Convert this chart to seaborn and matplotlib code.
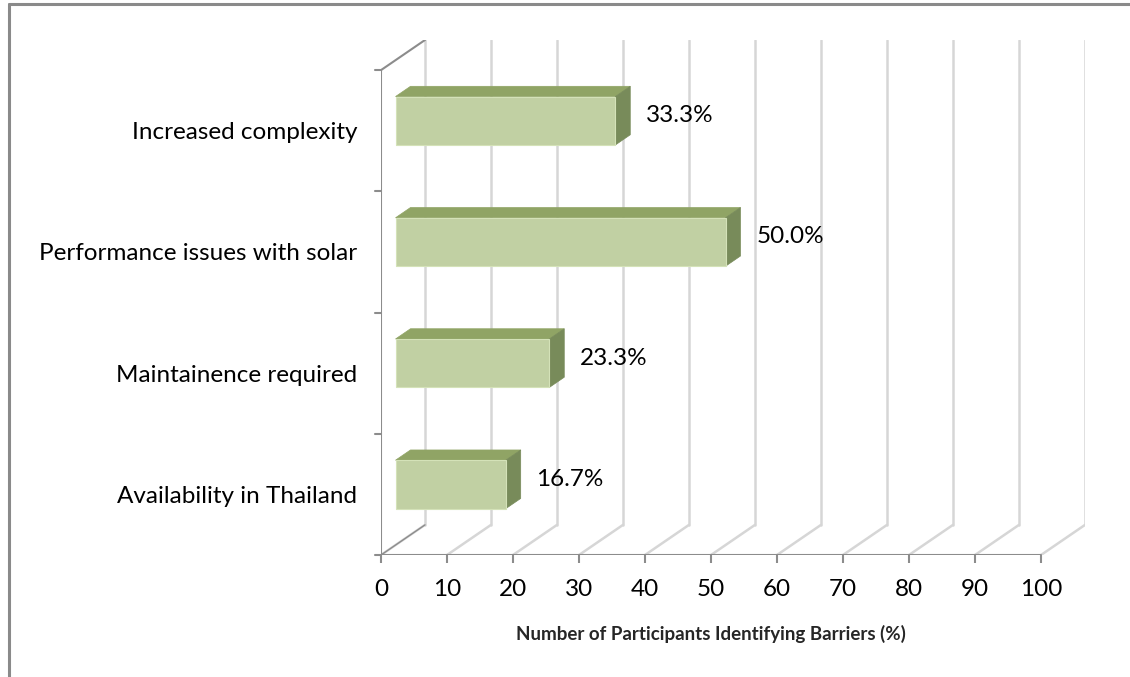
import matplotlib
matplotlib.use("Agg")
import matplotlib.pyplot as plt
import seaborn as sns
import pandas as pd
from matplotlib.patches import Polygon
from matplotlib.lines import Line2D

# Survey results: share of participants naming each barrier
categories = ["Increased complexity", "Performance issues with solar",
              "Maintainence required", "Availability in Thailand"]
values = [33.3, 50.0, 23.3, 16.7]
value_labels = ["33.3%", "50.0%", "23.3%", "16.7%"]
x_ticks = [0, 10, 20, 30, 40, 50, 60, 70, 80, 90, 100]
x_title = "Number of Participants Identifying Barriers (%)"

df = pd.DataFrame({"barrier": categories, "pct": values})

sns.set_theme(style="white")
plt.rcParams["font.family"] = ["Lato", "DejaVu Sans"]

FRONT = "#c4d79b"
TOP = "#90a465"
SIDE = "#788b5a"
AXIS = "#8c8c8c"
GRID = "#d6d6d6"
FS = 17.5

fig = plt.figure(figsize=(11.30, 6.77), dpi=100)
W, H = 1130, 677
# axes spans front-left axis (x=0) to back-right corner, back-wall top to floor front
ax = fig.add_axes([381 / W, 1 - 555 / H, (1085 - 381) / W, (555 - 40) / H])

# oblique depth in data units
DX = 100 * 44 / 660.0          # horizontal shift of the back wall
band_px = (555 - 72) / 4.0
DY = -30 / band_px              # vertical shift (axis inverted below)
D0, D1 = 0.33, 0.67             # bar sits in the middle third of the depth
BAR_W = 0.4

sns.barplot(data=df, x="pct", y="barrier", orient="h", order=categories,
            color=FRONT, width=BAR_W, ax=ax, zorder=5, edgecolor="#d4e2b8",
            linewidth=0.8)

n = len(categories)
ax.set_xlim(0, 100 + DX)
ax.set_ylim(n - 0.5, -0.5 + DY)

# back wall vertical gridlines and floor diagonals
for t in x_ticks:
    ax.add_line(Line2D([t + DX, t + DX], [-0.5 + DY, n - 0.5 + DY],
                       color=GRID, lw=1.8, zorder=1))
    ax.add_line(Line2D([t, t + DX], [n - 0.5, n - 0.5 + DY],
                       color=GRID, lw=1.8, zorder=1))
# left wall edges
ax.add_line(Line2D([0, DX], [-0.5, -0.5 + DY], color=AXIS, lw=1.5, zorder=2))
ax.add_line(Line2D([0, 0], [-0.5, n - 0.5], color=AXIS, lw=1.5, zorder=2))
ax.add_line(Line2D([0, DX], [n - 0.5, n - 0.5 + DY], color=AXIS, lw=1.0, zorder=2))
# floor front edge
ax.add_line(Line2D([0, 100], [n - 0.5, n - 0.5], color=AXIS, lw=1.5, zorder=2))
# category boundary ticks on the left axis
for b in range(n + 1):
    ax.add_line(Line2D([-6 * 100 / 660.0, 0], [b - 0.5, b - 0.5], color=AXIS,
                       lw=1.5, zorder=2, clip_on=False))

# turn the flat bars into 3-D blocks
for patch, v, lab in zip(ax.patches, values, value_labels):
    y0 = patch.get_y()
    h = patch.get_height()
    w = patch.get_width()
    fx, fy = D0 * DX, D0 * DY
    bx, by = D1 * DX, D1 * DY
    patch.set_x(fx)
    patch.set_y(y0 + fy)
    top = Polygon([(fx, y0 + fy), (fx + w, y0 + fy), (bx + w, y0 + by), (bx, y0 + by)],
                  closed=True, facecolor=TOP, edgecolor=TOP, lw=0.5, zorder=4)
    side = Polygon([(fx + w, y0 + fy), (bx + w, y0 + by), (bx + w, y0 + h + by),
                    (fx + w, y0 + h + fy)],
                   closed=True, facecolor=SIDE, edgecolor=SIDE, lw=0.5, zorder=4)
    ax.add_patch(top)
    ax.add_patch(side)
    ax.text(w + bx + 2.4, y0 + h / 2 + 0.5 * DY, lab, fontsize=FS,
            va="center", ha="left", color="black", zorder=6)

for s in ax.spines.values():
    s.set_visible(False)
ax.set_xticks(x_ticks)
ax.set_xticklabels([str(t) for t in x_ticks], fontsize=FS)
ax.tick_params(axis="x", bottom=True, length=6, width=1.5, color=AXIS, pad=11,
               labelcolor="black")
ax.set_yticks(range(n))
ax.set_yticklabels(categories, fontsize=FS)
ax.tick_params(axis="y", left=False, length=0, pad=17, labelcolor="black")
ax.set_xlabel("")
ax.set_ylabel("")
ax.annotate(x_title, xy=(50, 0), xycoords=("data", "axes fraction"),
            xytext=(0, -57), textcoords="offset points", ha="center", va="center",
            fontsize=13.5, fontweight="bold")

# outer chart frame (left and top edges)
fig.add_artist(Line2D([9 / W, 9 / W], [0, 1 - 4 / H], color="#8a8a8a", lw=2.2))
fig.add_artist(Line2D([9 / W, 1], [1 - 4 / H, 1 - 4 / H], color="#8a8a8a", lw=2.2))

fig.savefig("out.png", dpi=100)
